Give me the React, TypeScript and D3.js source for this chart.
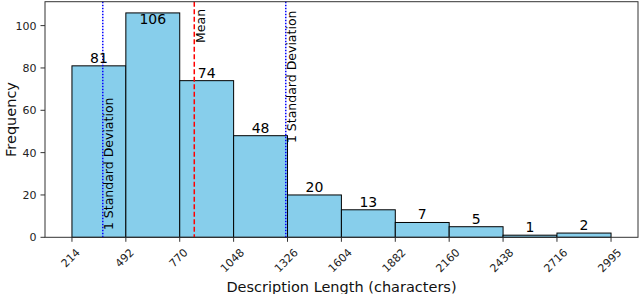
import React from "react";
import * as d3 from "d3";

const binEdges = [214, 492, 770, 1048, 1326, 1604, 1882, 2160, 2438, 2716, 2995];
const tickLabels = ["214", "492", "770", "1048", "1326", "1604", "1882", "2160", "2438", "2716", "2995"];
const counts = [81, 106, 74, 48, 20, 13, 7, 5, 1, 2];
const yTicks = [0, 20, 40, 60, 80, 100];
const meanValue = 845;
const stdValue = 472;
const annotations = [
  { text: "Mean", x: meanValue, y: 91.8 },
  { text: "1 Standard Deviation", x: meanValue - stdValue, y: 3.4 },
  { text: "1 Standard Deviation", x: meanValue + stdValue, y: 44.5 },
];

const W = 640;
const H = 294;
const left = 45, right = 638, top = 1.7, bottom = 237.3;
const FONT = "DejaVu Sans, sans-serif";

export default function App() {
  const span = binEdges[binEdges.length - 1] - binEdges[0];
  const pad = span * 0.05;
  const x = d3.scaleLinear().domain([binEdges[0] - pad, binEdges[binEdges.length - 1] + pad]).range([left, right]);
  const yMax = d3.max(counts)! * 1.05;
  const y = d3.scaleLinear().domain([0, yMax]).range([bottom, top]);

  const tickFs = 11;
  const capH = 0.73 * tickFs;
  const annFs = 12.5;

  return (
    <div style={{ position: "absolute", left: 0, top: 0 }}>
      <svg width={W} height={H} style={{ display: "block", fontFamily: FONT }}>
        <rect x={0} y={0} width={W} height={H} fill="#fff" />
        {counts.map((c, i) => (
          <rect
            key={"b" + i}
            x={x(binEdges[i])}
            y={y(c)}
            width={x(binEdges[i + 1]) - x(binEdges[i])}
            height={bottom - y(c)}
            fill="#87CEEB"
            stroke="#000"
            strokeWidth={1}
          />
        ))}
        {/* lines */}
        <line x1={x(meanValue)} x2={x(meanValue)} y1={top} y2={bottom} stroke="#ff0000" strokeWidth={1.5} strokeDasharray="5,2.5" />
        {[meanValue - stdValue, meanValue + stdValue].map((v, i) => (
          <line key={"sd" + i} x1={x(v)} x2={x(v)} y1={top} y2={bottom} stroke="#0000ff" strokeWidth={1.5} strokeDasharray="1.5,1.5" />
        ))}
        {/* count labels */}
        {counts.map((c, i) => {
          const cx = (x(binEdges[i]) + x(binEdges[i + 1])) / 2;
          const ty = Math.max(y(c) - 3, top + 22.5);
          return (
            <text key={"c" + i} x={cx} y={ty} textAnchor="middle" fontSize={14} fill="#000">
              {c}
            </text>
          );
        })}
        {/* annotations */}
        {annotations.map((a, i) => {
          const bx = x(a.x) + 1.5 + 0.73 * annFs;
          const by = y(a.y);
          return (
            <text key={"a" + i} transform={`translate(${bx},${by}) rotate(-90)`} fontSize={annFs} fill="#000">
              {a.text}
            </text>
          );
        })}
        {/* frame */}
        <rect x={left} y={top} width={right - left} height={bottom - top} fill="none" stroke="#333" strokeWidth={1} />
        {/* y axis */}
        {yTicks.map((t) => (
          <g key={"y" + t}>
            <line x1={left - 4.5} x2={left} y1={y(t)} y2={y(t)} stroke="#333" strokeWidth={1} />
            <text x={left - 8.5} y={y(t) + capH / 2} textAnchor="end" fontSize={tickFs} fill="#222">
              {t}
            </text>
          </g>
        ))}
        {/* x axis */}
        {binEdges.map((e, i) => {
          const tx = x(e);
          const label = tickLabels[i];
          const w = label.length * 0.636 * tickFs;
          const cy = 247.5 + (w + capH) / (2 * Math.SQRT2);
          return (
            <g key={"x" + i}>
              <line x1={tx} x2={tx} y1={bottom} y2={bottom + 4.5} stroke="#333" strokeWidth={1} />
              <text transform={`translate(${tx - 1.5},${cy}) rotate(-45)`} y={capH / 2} textAnchor="middle" fontSize={tickFs} fill="#222">
                {label}
              </text>
            </g>
          );
        })}
        <text x={(left + right) / 2} y={291.5} textAnchor="middle" fontSize={14.5} fill="#111">
          Description Length (characters)
        </text>
        <text transform={`translate(15.5,${(top + bottom) / 2}) rotate(-90)`} textAnchor="middle" fontSize={14.5} fill="#111">
          Frequency
        </text>
      </svg>
    </div>
  );
}
